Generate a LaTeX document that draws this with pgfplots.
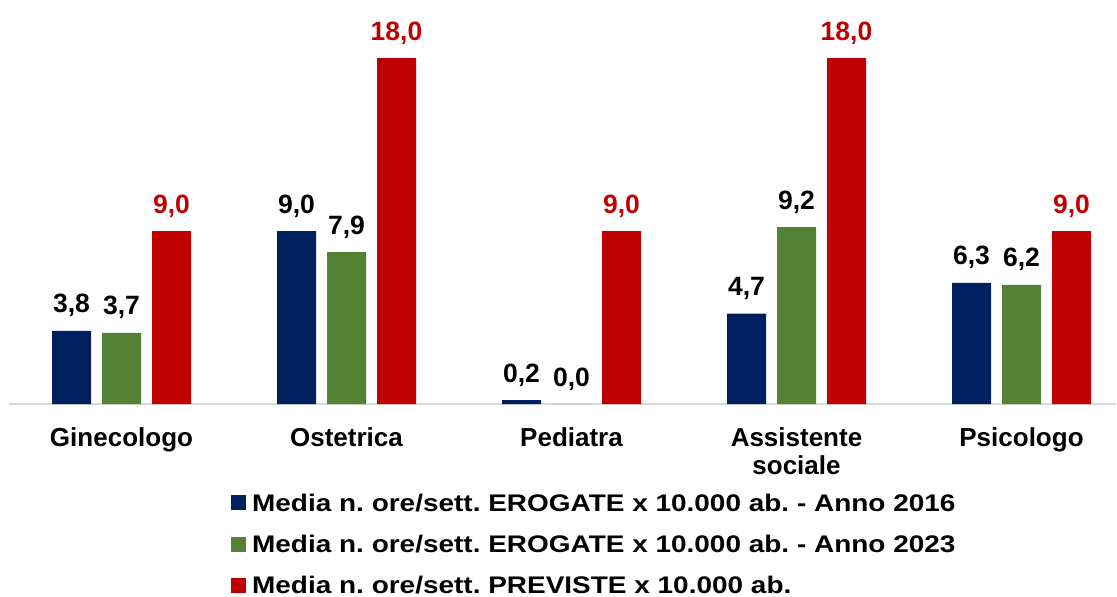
\documentclass[border=0pt]{standalone}
\usepackage{fontspec}
\setmainfont{Liberation Sans}
\newfontfamily\legfont[FakeStretch=1.165]{Liberation Sans}
\usepackage{pgfplots}
\pgfplotsset{compat=1.18}
\definecolor{cblue}{HTML}{002060}
\definecolor{cgreen}{HTML}{548235}
\definecolor{cred}{HTML}{C00000}
\begin{document}
\frenchspacing
\begin{tikzpicture}
\path[use as bounding box] (-9pt,-193pt) rectangle (1108pt,404pt);
\begin{axis}[
  at={(0pt,0pt)}, anchor=south west,
  x=225pt, y=19.22pt,
  xmin=-0.5, xmax=4.42, ymin=0, ymax=20,
  ybar=11pt, bar width=39pt,
  axis y line=none, axis x line*=bottom,
  x axis line style={draw=black!15, line width=1.2pt, -},
  xtick={0,1,2,3,4},
  xticklabels={Ginecologo,Ostetrica,Pediatra,{Assistente\\sociale},Psicologo},
  major tick length=0pt,
  ytick=\empty,
  xticklabel style={font=\fontsize{26}{28}\selectfont\bfseries, align=center, anchor=north, yshift=-20pt},
  nodes near coords={\pgfmathprintnumber[fixed,fixed zerofill,precision=1,use comma,assume math mode=true]{\pgfplotspointmeta}},
  nodes near coords style={font=\fontsize{26.5}{30}\selectfont\bfseries, anchor=base, yshift=18pt, inner sep=0pt},
  clip=false,
  legend style={at={(0.2005,-0.2276)}, anchor=north west, draw=none, fill=none, inner sep=0pt,
    font=\fontsize{24}{28}\selectfont\bfseries\legfont\frenchspacing, row sep=18.5pt},
  legend cell align=left,
  legend image code/.code={\fill[#1] (0pt,-7pt) rectangle (15pt,8pt); \path (19pt,0pt);},
]
\addplot[fill=cblue, draw=none] coordinates {(0,3.8) (1,9.0) (2,0.2) (3,4.7) (4,6.3)};
\addplot[fill=cgreen, draw=none] coordinates {(0,3.7) (1,7.9) (2,0.0) (3,9.2) (4,6.2)};
\addplot[fill=cred, draw=none, every node near coord/.append style={text=cred}] coordinates {(0,9.0) (1,18.0) (2,9.0) (3,18.0) (4,9.0)};
\legend{Media n. ore/sett. EROGATE x 10.000 ab. - Anno 2016, Media n. ore/sett. EROGATE x 10.000 ab. - Anno 2023, Media n. ore/sett. PREVISTE x 10.000 ab.}
\end{axis}
\end{tikzpicture}
\end{document}
